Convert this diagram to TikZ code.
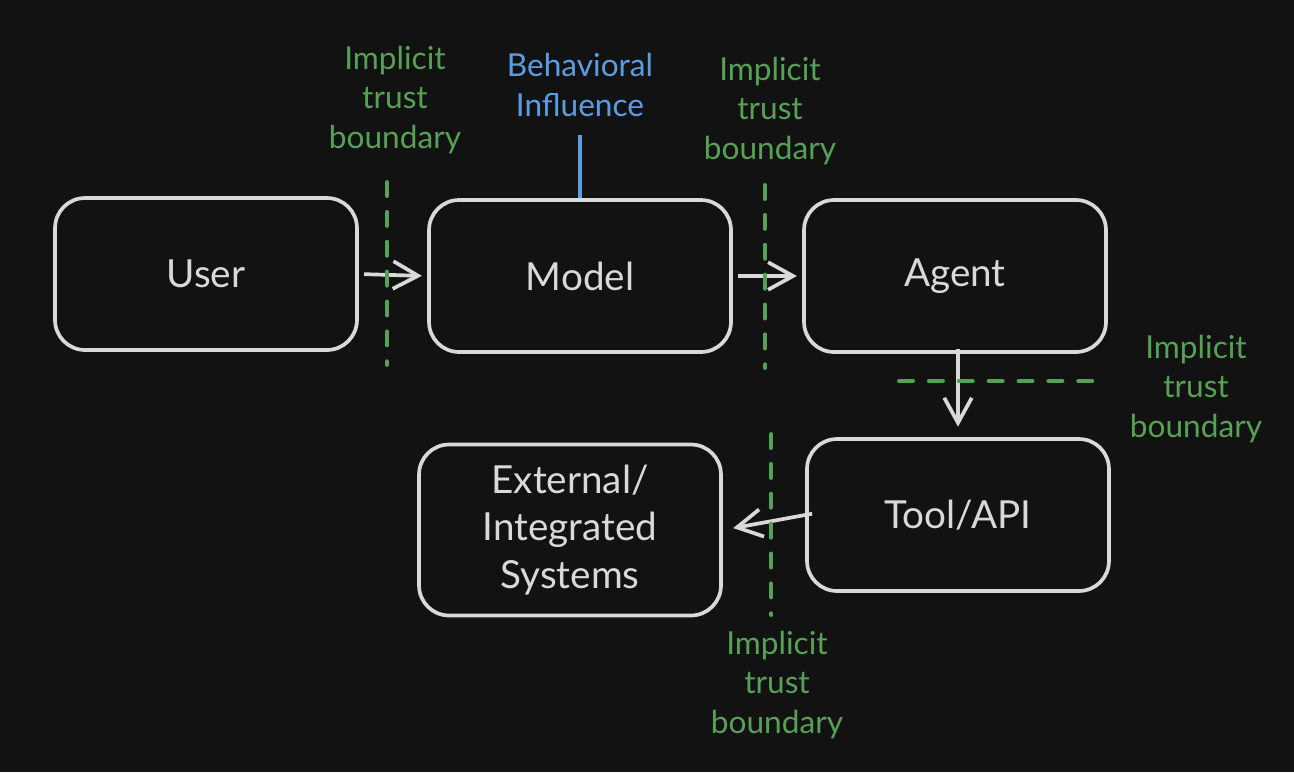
\documentclass[tikz,border=0pt]{standalone}
\usepackage{fontspec}
\setmainfont{Lato}
\usetikzlibrary{arrows.meta, positioning}
\definecolor{bgdark}{HTML}{121212}
\definecolor{strokegray}{HTML}{D9D9D9}
\definecolor{trustgreen}{HTML}{56A156}
\definecolor{influenceblue}{HTML}{5C9DE2}

\begin{document}
\begin{tikzpicture}[x=0.02cm, y=-0.02cm, line width=2.1pt,
				Box/.style={
				draw=strokegray,
				rounded corners=0.6cm,
				minimum width=6.04cm,
				minimum height=3.04cm,
				text=strokegray,
				align=center,
				font=\fontsize{22}{27}\selectfont},
				Flow/.style={draw=strokegray, -{Straight Barb[length=0.5cm, width=0.55cm]}},
				Boundary/.style={draw=trustgreen, line width=2.2pt, line cap=round, dash pattern=on 8pt off 9pt},
				BoundaryLabel/.style={text=trustgreen, align=center, font=\fontsize{18}{22.7}\selectfont},
				InfluenceLabel/.style={text=influenceblue, align=center, font=\fontsize{18}{22.7}\selectfont}]
				\fill[bgdark] (0,0) rectangle (1294,772);
				\useasboundingbox (0,0) rectangle (1294,772);
				% boxes
				\node[Box] (user) at (206,274) {User};
				\node[Box] (model) at (580,276) {Model};
				\node[Box] (agent) at (955,276) {Agent};
				\node[Box] (tool) at (958,515) {Tool/API};
				\node[Box, minimum height=3.42cm] (ext) at (570,530) {External/\\Integrated\\Systems};
				% flow
				\draw[Flow, shorten <=3pt, shorten >=3pt] (user.east) -- (model.west);
				\draw[Flow, shorten <=3pt, shorten >=3pt] (model.east) -- (agent.west);
				\draw[Flow, shorten <=-3pt, shorten >=6pt] (agent.south -| tool.north) -- (tool.north);
				\draw[Flow, shorten <=-4pt, shorten >=6pt] (tool.west) -- (ext.east);
				% trust boundaries
				\coordinate (b1top) at (387,182);
				\coordinate (b1bot) at (387,365);
				\coordinate (b2top) at (765,185);
				\coordinate (b2bot) at (765,368);
				\coordinate (b3left) at (899,381);
				\coordinate (b3right) at (1097,381);
				\coordinate (b4top) at (771,434);
				\coordinate (b4bot) at (771,615);
				\draw[Boundary] (b1top) -- (b1bot);
				\draw[Boundary] (b2top) -- (b2bot);
				\draw[Boundary] (b3left) -- (b3right);
				\draw[Boundary] (b4top) -- (b4bot);
				\node[BoundaryLabel] (lab1) at (395,100) {Implicit\\trust\\boundary};
				\node[BoundaryLabel] (lab2) at (770,111) {Implicit\\trust\\boundary};
				\node[BoundaryLabel] (lab3) at (1196,389) {Implicit\\trust\\boundary};
				\node[BoundaryLabel] (lab4) at (777,685) {Implicit\\trust\\boundary};
				% behavioral influence
				\node[InfluenceLabel] (infl) at (580,85) {Behavioral\\Influence};
				\draw[influenceblue, shorten <=6pt] (infl.south -| model.north) -- (model.north);
			\end{tikzpicture}
\end{document}
